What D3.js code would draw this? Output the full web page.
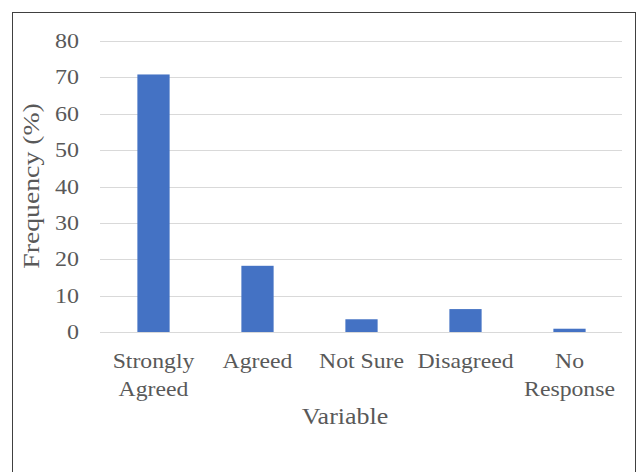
<!DOCTYPE html>
<html>
<head>
<meta charset="utf-8">
<script src="https://cdn.jsdelivr.net/npm/d3@7"></script>
<style>
  html, body { margin: 0; padding: 0; background: #fff; }
  svg { display: block; }
  text { font-family: "Liberation Serif", "Times New Roman", serif; fill: #595959; }
</style>
</head>
<body>
<svg id="chart" width="637" height="472"></svg>
<script>
// Survey responses, share of respondents per answer
const categories = ["Strongly Agreed", "Agreed", "Not Sure", "Disagreed", "No Response"];
const categoryLines = [["Strongly", "Agreed"], ["Agreed"], ["Not Sure"], ["Disagreed"], ["No", "Response"]];
const frequency = [70.8, 18.2, 3.5, 6.3, 0.9];
const yTicks = [0, 10, 20, 30, 40, 50, 60, 70, 80];

const svg = d3.select("#chart");

// outer frame
svg.append("rect")
  .attr("x", 12.5).attr("y", 12.5)
  .attr("width", 623).attr("height", 480)
  .attr("fill", "none").attr("stroke", "#404040").attr("stroke-width", 1);

const x = d3.scaleBand().domain(categories).range([101.5, 621.5]).paddingInner(0.69).paddingOuter(0.345);
const y = d3.scaleLinear().domain([0, 80]).range([332, 41]);

// horizontal gridlines
svg.append("g").selectAll("line").data(yTicks).join("line")
  .attr("x1", 100).attr("x2", 622)
  .attr("y1", d => Math.round(y(d)) + 0.5).attr("y2", d => Math.round(y(d)) + 0.5)
  .attr("stroke", "#d9d9d9").attr("stroke-width", 1);

// bars
svg.append("g").selectAll("rect").data(frequency).join("rect")
  .attr("x", (d, i) => x(categories[i]))
  .attr("width", x.bandwidth())
  .attr("y", d => y(d))
  .attr("height", d => y(0) - y(d))
  .attr("fill", "#4472c4");

// y tick labels
svg.append("g").selectAll("text").data(yTicks).join("text")
  .attr("transform", d => `translate(79,${y(d)}) scale(1.2,1)`)
  .attr("text-anchor", "end")
  .attr("dy", "0.35em")
  .attr("font-size", 20)
  .text(d => d);

// category labels, wrapped onto two lines where needed
const cat = svg.append("g").selectAll("g").data(categories).join("g")
  .attr("transform", d => `translate(${x(d) + x.bandwidth() / 2},0)`);
cat.each(function (d, i) {
  d3.select(this).selectAll("text").data(categoryLines[i]).join("text")
    .attr("transform", (t, j) => `translate(0,${367.5 + j * 28.5}) scale(1.13,1)`)
    .attr("text-anchor", "middle")
    .attr("font-size", 21)
    .text(t => t);
});

// axis titles
svg.append("text")
  .attr("transform", "translate(345,424) scale(1.13,1)")
  .attr("text-anchor", "middle")
  .attr("font-size", 23)
  .text("Variable");

svg.append("text")
  .attr("transform", "translate(39,186) rotate(-90) scale(1.18,1)")
  .attr("text-anchor", "middle")
  .attr("font-size", 23.5)
  .text("Frequency (%)");
</script>
</body>
</html>
